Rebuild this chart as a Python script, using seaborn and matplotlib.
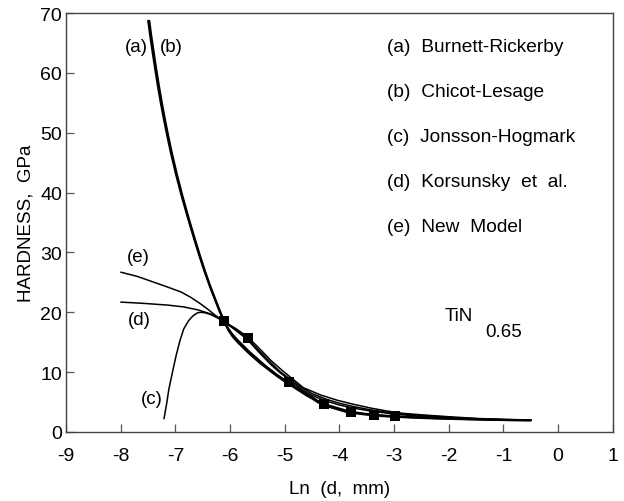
import numpy as np
import pandas as pd
import matplotlib
matplotlib.use("Agg")
import matplotlib.pyplot as plt
import seaborn as sns

# Measured hardness of TiN0.65 versus ln(indent diagonal)
meas_x = [-6.12, -5.68, -4.93, -4.29, -3.78, -3.36, -2.98]
meas_y = [18.6, 15.7, 8.4, 4.6, 3.3, 2.8, 2.7]

# Model curves (a)-(e)
a_x = [-7.498, -7.463, -7.425, -7.375, -7.321, -7.268, -7.212, -7.150, -7.084, -6.988, -6.885,
       -6.773, -6.655, -6.560, -6.462, -6.372, -6.279, -6.196, -6.111,
       -6.03, -5.95, -5.85, -5.75, -5.65, -5.55, -5.45, -5.35, -5.25, -5.15, -5.04, -4.93,
       -4.82, -4.70, -4.60, -4.50, -4.40, -4.29, -4.15, -4.00, -3.89, -3.78, -3.64, -3.50, -3.35,
       -3.20, -3.00, -2.75, -2.50, -2.25, -2.00, -1.75, -1.50, -1.25, -1.00, -0.75, -0.50]
a_y = [68.7, 66.3, 63.95, 60.9, 57.8, 55.0, 52.3, 49.5, 46.7, 43.0, 39.4,
       35.8, 32.2, 29.4, 26.7, 24.4, 22.2, 20.3, 18.5,
       17.0, 15.9, 14.9, 14.0, 13.1, 12.3, 11.5, 10.8, 10.1, 9.4, 8.7, 8.1,
       7.4, 6.7, 6.1, 5.6, 5.0, 4.5, 4.1, 3.7, 3.4, 3.2, 3.05, 2.9, 2.78,
       2.65, 2.55, 2.45, 2.35, 2.27, 2.2, 2.15, 2.1, 2.05, 2.0, 1.97, 1.95]

b_x = [-7.480, -7.445, -7.407, -7.357, -7.303, -7.250, -7.195, -7.134, -7.069, -6.974, -6.872,
       -6.762, -6.645, -6.551, -6.455, -6.366, -6.274, -6.193, -6.111,
       -6.03, -5.95, -5.85, -5.75, -5.65, -5.55, -5.45, -5.35, -5.25, -5.15, -5.04, -4.93,
       -4.82, -4.70, -4.60, -4.50, -4.40, -4.29, -4.15, -4.00, -3.89, -3.78, -3.64, -3.50, -3.35,
       -3.20, -3.00, -2.75, -2.50, -2.25, -2.00, -1.75, -1.50, -1.25, -1.00, -0.75, -0.50]
b_y = [68.7, 66.3, 63.95, 60.9, 57.8, 55.0, 52.3, 49.5, 46.7, 43.0, 39.4,
       35.8, 32.2, 29.4, 26.7, 24.4, 22.2, 20.3, 18.5,
       17.2, 16.2, 15.2, 14.3, 13.4, 12.6, 11.8, 11.0, 10.3, 9.6, 8.9, 8.3,
       7.6, 6.9, 6.3, 5.8, 5.2, 4.7, 4.3, 3.9, 3.6, 3.35, 3.17, 3.0, 2.87,
       2.75, 2.6, 2.5, 2.4, 2.32, 2.25, 2.18, 2.12, 2.07, 2.02, 1.99, 1.97]

c_x = [-7.21, -7.16, -7.12, -7.05, -6.99, -6.92, -6.85, -6.76, -6.68, -6.60, -6.54, -6.45, -6.35,
       -6.24, -6.12, -5.90, -5.68, -5.47, -5.26, -5.10, -4.93, -4.72, -4.50, -4.25, -4.00, -3.72,
       -3.43, -3.13, -2.83, -2.40, -1.92, -1.46, -1.00, -0.50]
c_y = [2.2, 4.8, 7.2, 10.2, 12.7, 15.2, 17.2, 18.6, 19.4, 19.9, 20.0, 19.9, 19.6,
       19.1, 18.5, 17.0, 15.4, 13.3, 11.3, 10.0, 8.8, 7.3, 6.1, 5.2, 4.5, 3.95,
       3.5, 3.15, 2.85, 2.55, 2.3, 2.13, 2.0, 1.95]

d_x = [-8.00, -7.60, -7.14, -6.85, -6.59, -6.45, -6.35, -6.24, -6.12, -5.90, -5.68, -5.47, -5.26,
       -5.10, -4.93, -4.72, -4.50, -4.25, -4.00, -3.72, -3.43, -3.13, -2.83, -2.40, -1.92, -1.46,
       -1.00, -0.50]
d_y = [21.7, 21.5, 21.2, 20.9, 20.4, 20.0, 19.7, 19.2, 18.5, 17.1, 15.6, 13.6, 11.6,
       10.2, 9.0, 7.6, 6.4, 5.5, 4.8, 4.2, 3.7, 3.3, 3.0, 2.7, 2.4, 2.2,
       2.05, 1.97]

e_x = [-8.00, -7.70, -7.45, -7.20, -6.90, -6.72, -6.54, -6.42, -6.30, -6.21, -6.12, -5.90, -5.68,
       -5.47, -5.26, -5.10, -4.93, -4.66, -4.35, -4.04, -3.73, -3.43, -3.13, -2.83, -2.40, -1.92,
       -1.46, -1.00, -0.50]
e_y = [26.7, 26.0, 25.2, 24.4, 23.4, 22.5, 21.4, 20.6, 19.7, 19.1, 18.5, 17.3, 15.9,
       14.0, 12.0, 10.7, 9.4, 7.4, 6.2, 5.3, 4.6, 4.0, 3.5, 3.1, 2.8, 2.5,
       2.25, 2.1, 2.0]

legend_entries = ["(a)  Burnett-Rickerby", "(b)  Chicot-Lesage", "(c)  Jonsson-Hogmark",
                  "(d)  Korsunsky  et  al.", "(e)  New  Model"]
x_ticks = [-9, -8, -7, -6, -5, -4, -3, -2, -1, 0, 1]
y_ticks = [0, 10, 20, 30, 40, 50, 60, 70]

sns.set_style("ticks")
plt.rcParams["font.family"] = ["Liberation Sans", "DejaVu Sans"]
plt.rcParams["xtick.direction"] = "in"
plt.rcParams["ytick.direction"] = "in"
plt.rcParams["text.color"] = "black"
plt.rcParams["axes.labelcolor"] = "black"
plt.rcParams["xtick.labelcolor"] = "black"
plt.rcParams["ytick.labelcolor"] = "black"

fig = plt.figure(figsize=(6.24, 5.02), dpi=100)
ax = fig.add_axes([0.106, 0.1375, 0.876, 0.8345])

thin = 1.1
thick = 1.6
for xs, ys, lw in [(c_x, c_y, thin), (d_x, d_y, thin), (e_x, e_y, thin),
                   (a_x, a_y, thick), (b_x, b_y, thick)]:
    sns.lineplot(x=xs, y=ys, sort=False, color="black", lw=lw, ax=ax, estimator=None)

sns.scatterplot(x=meas_x, y=meas_y, marker="s", s=42, color="black", edgecolor="black",
                linewidth=0, ax=ax, zorder=5)

ax.set_xlim(-9, 1)
ax.set_ylim(0, 70)
ax.set_xticks(x_ticks)
ax.set_yticks(y_ticks)
ax.set_xticklabels([str(t) for t in x_ticks])
ax.set_yticklabels([str(t) for t in y_ticks])
ax.tick_params(axis="both", length=6, width=0.9, color="#555555", labelsize=14, pad=3)
ax.tick_params(axis="x", pad=11)
for sp in ax.spines.values():
    sp.set_color("#444444")
    sp.set_linewidth(1.0)

ax.set_xlabel("Ln  (d,  mm)", fontsize=13.5, labelpad=11)
ax.set_ylabel("HARDNESS,  GPa", fontsize=13.5, labelpad=4)

# curve labels
lab_kw = dict(fontsize=13.5, ha="center", va="center")
ax.text(-7.72, 64.4, "(a)", **lab_kw)
ax.text(-7.07, 64.4, "(b)", **lab_kw)
ax.text(-7.68, 29.3, "(e)", **lab_kw)
ax.text(-7.66, 18.8, "(d)", **lab_kw)
ax.text(-7.43, 5.6, "(c)", **lab_kw)

# legend text
for i, entry in enumerate(legend_entries):
    ax.text(-3.13, 64.4 - 7.5 * i, entry, fontsize=13.8, ha="left", va="center")

ax.text(-2.08, 19.5, "TiN", fontsize=13.5, ha="left", va="center")
ax.text(-1.33, 16.8, "0.65", fontsize=13.5, ha="left", va="center")

fig.savefig("out.png", dpi=100)
